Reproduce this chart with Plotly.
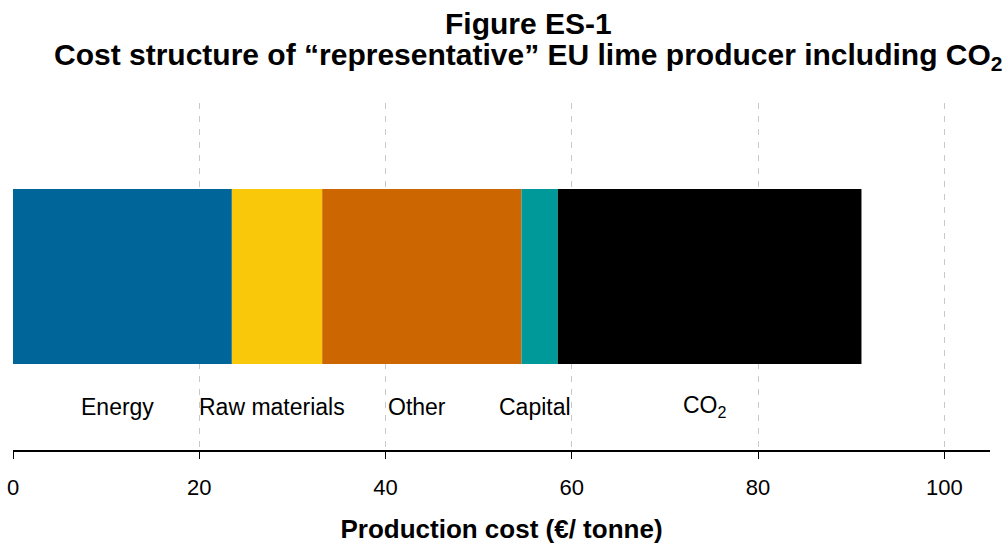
import plotly.graph_objects as go

categories = ["Energy", "Raw materials", "Other", "Capital", "CO<sub>2</sub>"]
values = [23.5, 9.7, 21.4, 3.9, 32.6]
colors = ["#006699", "#F9C80A", "#CC6600", "#009999", "#000000"]
tick_vals = [0, 20, 40, 60, 80, 100]
title_line1 = "Figure ES-1"
title_line2 = "Cost structure of \u201crepresentative\u201d EU lime producer including CO<sub>2</sub>"
x_title = "Production cost (\u20ac/ tonne)"

FONT = "Liberation Sans, Arial, sans-serif"

fig = go.Figure()
start = 0.0
annotations = []
for cat, v, c in zip(categories, values, colors):
    fig.add_trace(go.Bar(
        x=[v], y=[0], base=[start], orientation="h", width=0.504,
        marker=dict(color=c, line=dict(width=0)), name=cat, showlegend=False,
        hoverinfo="skip"))
    annotations.append(dict(x=start + v / 2, y=-0.376, xref="x", yref="y",
                            text=cat, showarrow=False, yanchor="middle",
                            xshift=-5,
                            font=dict(family=FONT, size=23, color="black")))
    start += v

annotations.append(dict(x=0.528, y=1.2277, xref="paper", yref="paper",
                        text="<b>" + title_line1 + "</b>", showarrow=False,
                        xanchor="center", yanchor="middle",
                        font=dict(family=FONT, size=30, color="black")))
annotations.append(dict(x=0.528, y=1.1354, xref="paper", yref="paper",
                        text="<b>" + title_line2 + "</b>", showarrow=False,
                        xanchor="center", yanchor="middle",
                        font=dict(family=FONT, size=30, color="black")))

fig.update_layout(
    width=1006, height=546,
    margin=dict(l=13, r=16, t=103, b=96, pad=0),
    paper_bgcolor="white", plot_bgcolor="white",
    barmode="overlay",
    annotations=annotations,
    xaxis=dict(
        range=[0, 104.9], tickvals=tick_vals, ticktext=[str(t) for t in tick_vals],
        showgrid=True, gridcolor="#c8c8c8", griddash="6px,7px", gridwidth=1,
        zeroline=False, showline=True, linecolor="black", linewidth=1.5,
        ticks="outside", ticklen=7, tickcolor="black", tickwidth=1,
        ticklabelstandoff=10, automargin=False,
        tickfont=dict(family=FONT, size=22, color="black"),
        title=dict(text="<b>" + x_title + "</b>", standoff=21,
                   font=dict(family=FONT, size=26, color="black")),
    ),
    yaxis=dict(range=[-0.5, 0.5], showgrid=False, zeroline=False,
               showticklabels=False, showline=False, automargin=False),
)

fig.write_html("out.html")
